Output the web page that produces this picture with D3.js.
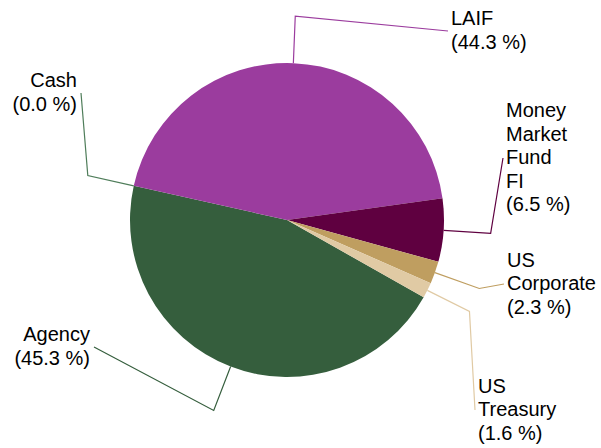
<!DOCTYPE html>
<html>
<head>
<meta charset="utf-8">
<script src="https://cdn.jsdelivr.net/npm/d3@7"></script>
<style>
  html, body { margin: 0; padding: 0; background: #fff; }
  svg { display: block; }
  .label { font-family: "Liberation Sans", Arial, sans-serif; font-size: 20px; fill: #000; }
</style>
</head>
<body>
<div id="chart"></div>
<script>
const WIDTH = 601;
const HEIGHT = 448;
const CENTER = { X: 287, Y: 220 };
const RADIUS = 157;
const START_ANGLE = 119.5 * Math.PI / 180;
const LINE_HEIGHT = 23.5;

// data
const categories = ['Agency', 'Cash', 'LAIF', 'Money Market Fund FI', 'US Corporate', 'US Treasury'];
const percents = [45.3, 0.0, 44.3, 6.5, 2.3, 1.6];
const colors = ['#355E3D', '#4F7D5A', '#9B3C9E', '#5F0040', '#BF9E60', '#E0CAA4'];

// where each leader line ends (label anchor) and which side the text sits
const labelAnchors = [[94, 347], [81, 93], [448, 31], [503, 158], [504, 284], [475, 410]];
const labelSides = ['left', 'left', 'right', 'right', 'right', 'right'];

const data = categories.map((c, i) => ({ name: c, value: percents[i], color: colors[i], anchor: labelAnchors[i], side: labelSides[i] }));

let svg = d3.select('#chart')
    .append('svg')
    .attr('width', WIDTH)
    .attr('height', HEIGHT);

let g = svg.append('g')
    .attr('transform', `translate(${CENTER.X},${CENTER.Y})`);

let pie = d3.pie()
    .sort(null)
    .value(d => d.value)
    .startAngle(START_ANGLE)
    .endAngle(START_ANGLE + 2 * Math.PI);

let arc = d3.arc().innerRadius(0).outerRadius(RADIUS);
let arcs = pie(data);

// slices
g.selectAll('.slice')
    .data(arcs)
    .enter()
    .append('path')
    .attr('class', 'slice')
    .attr('d', arc)
    .style('fill', d => d.data.color);

// leader lines: radial out to 1.3r, then over to the label
let pointAt = (angle, r) => [r * Math.sin(angle), -r * Math.cos(angle)];

g.selectAll('.leader')
    .data(arcs)
    .enter()
    .append('polyline')
    .attr('class', 'leader')
    .attr('points', d => {
        let mid = (d.startAngle + d.endAngle) / 2;
        let p0 = pointAt(mid, RADIUS);
        let p1 = pointAt(mid, RADIUS * 1.3);
        let p2 = [d.data.anchor[0] - CENTER.X, d.data.anchor[1] - CENTER.Y];
        return [p0, p1, p2].map(p => p.join(',')).join(' ');
    })
    .style('fill', 'none')
    .style('stroke', d => d.data.color)
    .style('stroke-width', 1.2);

// labels
let labels = svg.selectAll('.label')
    .data(data)
    .enter()
    .append('text')
    .attr('class', 'label')
    .attr('text-anchor', d => d.side === 'left' ? 'end' : 'start');

labels.each(function (d) {
    let lines = d.name.split(' ').concat([`(${d.value.toFixed(1)} %)`]);
    let x = d.side === 'left' ? d.anchor[0] - 4 : d.anchor[0] + 3;
    let y0 = d.anchor[1] - (lines.length - 1) / 2 * LINE_HEIGHT + 6;
    d3.select(this)
        .selectAll('tspan')
        .data(lines)
        .enter()
        .append('tspan')
        .attr('x', x)
        .attr('y', (l, i) => y0 + i * LINE_HEIGHT)
        .text(l => l);
});
</script>
</body>
</html>
